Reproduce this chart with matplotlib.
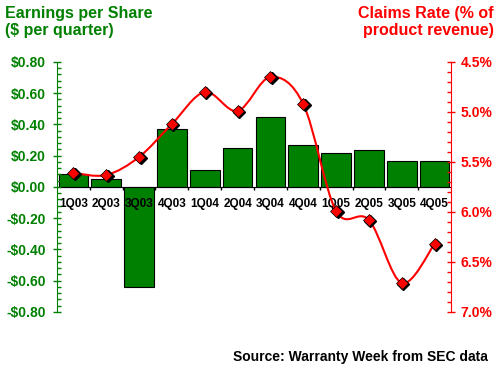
import numpy as np
import matplotlib
matplotlib.use('Agg')
import matplotlib.pyplot as plt
from matplotlib.path import Path
from matplotlib.patches import PathPatch
from matplotlib.ticker import MultipleLocator, FixedLocator
import matplotlib.transforms as mtransforms

plt.rcParams['font.family'] = ['Liberation Sans', 'DejaVu Sans']
plt.rcParams['font.weight'] = 'bold'

quarters = ['1Q03', '2Q03', '3Q03', '4Q03', '1Q04', '2Q04',
            '3Q04', '4Q04', '1Q05', '2Q05', '3Q05', '4Q05']
eps = [0.08, 0.05, -0.64, 0.37, 0.11, 0.25, 0.45, 0.27, 0.215, 0.235, 0.165, 0.165]
claims = [5.61, 5.63, 5.45, 5.12, 4.80, 4.99, 4.65, 4.92, 5.99, 6.08, 6.71, 6.32]

green = '#008000'
red = '#ff0000'

fig = plt.figure(figsize=(5, 3.69), dpi=100)
ax = fig.add_axes([0.114, 0.1545, 0.788, 0.6775])
ax2 = ax.twinx()

x = np.arange(len(quarters))
ax.bar(x, eps, width=0.9, color=green, edgecolor='black', linewidth=0.8, zorder=1)
ax.set_axisbelow(False)

ax.set_xlim(-0.5, len(quarters) - 0.5)
ax.set_ylim(-0.8, 0.8)
ax.yaxis.set_major_locator(MultipleLocator(0.2))
ax.yaxis.set_minor_locator(MultipleLocator(0.04))
ax.set_yticklabels([('-$%.2f' % -v) if v < -1e-9 else '$%.2f' % abs(v)
                    for v in ax.get_yticks()])
ax.tick_params(axis='y', which='major', direction='inout', length=6, width=1,
               color=green, labelcolor=green, labelsize=10, pad=5)
ax.tick_params(axis='y', which='minor', direction='in', length=3, width=1, color=green)

# category axis sits on the zero line
ax.spines['bottom'].set_position(('data', 0))
ax.spines['bottom'].set_color('black')
ax.spines['top'].set_visible(False)
ax.spines['right'].set_visible(False)
ax.spines['left'].set_color(green)
ax.xaxis.set_major_locator(FixedLocator(x))
ax.set_xticklabels(quarters)
ax.xaxis.set_minor_locator(FixedLocator(x[1:] - 0.5))
ax.tick_params(axis='x', which='major', length=0, labelsize=8.5, pad=8)
ax.tick_params(axis='x', which='minor', direction='out', length=2.5, width=1, color='black')

# claims rate, inverted scale
ax2.set_ylim(7.0, 4.5)
ax2.yaxis.set_major_locator(MultipleLocator(0.5))
ax2.yaxis.set_minor_locator(MultipleLocator(0.1))
ax2.set_yticklabels(['%.1f%%' % v for v in ax2.get_yticks()])
ax2.tick_params(axis='y', which='major', direction='inout', length=6, width=1,
                color=red, labelcolor=red, labelsize=10, pad=4)
ax2.tick_params(axis='y', which='minor', direction='in', length=3, width=1, color=red)
for s in ['top', 'bottom', 'left']:
    ax2.spines[s].set_visible(False)
ax2.spines['right'].set_color(red)

# smoothed line (catmull-rom style bezier through the points)
pts = np.column_stack([x, claims]).astype(float)
verts = [pts[0]]
codes = [Path.MOVETO]
for i in range(len(pts) - 1):
    p0 = pts[i - 1] if i > 0 else pts[i]
    p1 = pts[i]
    p2 = pts[i + 1]
    p3 = pts[i + 2] if i + 2 < len(pts) else pts[i + 1]
    verts += [p1 + (p2 - p0) / 6, p2 - (p3 - p1) / 6, p2]
    codes += [Path.CURVE4] * 3
ax2.add_patch(PathPatch(Path(verts, codes), facecolor='none', edgecolor=red, lw=1.5, zorder=3))

shadow = mtransforms.offset_copy(ax2.transData, fig=fig, x=1.5, y=-1.5, units='dots')
ax2.plot(x, claims, 'D', ms=6, color='black', transform=shadow, zorder=4)
ax2.plot(x, claims, 'D', ms=6, color=red, mec='black', mew=0.5, zorder=5)

fig.text(0.01, 0.985, 'Earnings per Share\n($ per quarter)', color=green, fontsize=11.5,
         fontweight='bold', ha='left', va='top', linespacing=1.2)
fig.text(0.988, 0.985, 'Claims Rate (% of\nproduct revenue)', color=red, fontsize=11.5,
         fontweight='bold', ha='right', va='top', linespacing=1.2, multialignment='right')
fig.text(0.975, 0.032, 'Source: Warranty Week from SEC data', color='black', fontsize=10,
         fontweight='bold', ha='right', va='center')

fig.savefig('out.png', dpi=100)
